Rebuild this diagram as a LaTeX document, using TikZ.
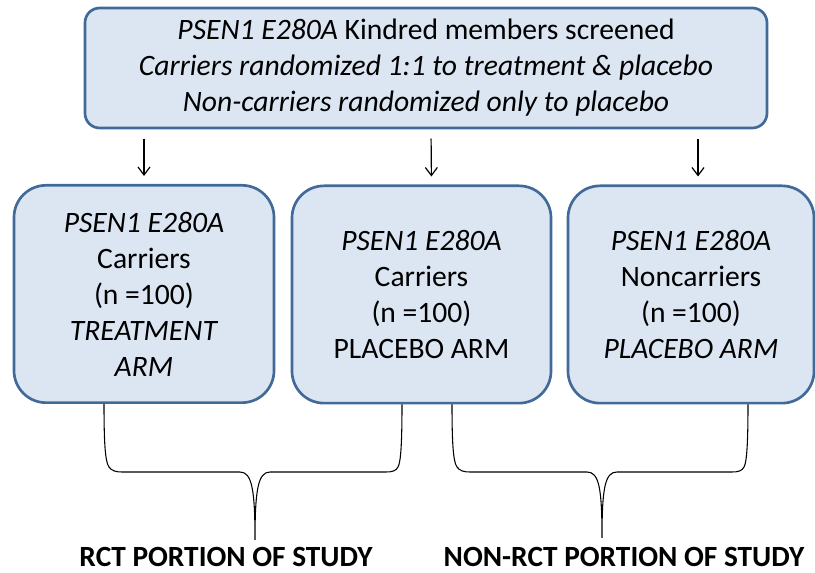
\documentclass[tikz,border=0pt]{standalone}
\usepackage{fontspec}
\setmainfont{Carlito}
\usetikzlibrary{arrows.meta,calc}
\definecolor{boxfill}{RGB}{220,230,242}
\definecolor{boxline}{RGB}{66,106,152}
\tikzset{
  box/.style={draw=boxline, fill=boxfill, line width=2pt, align=center, inner sep=0pt,
    font=\fontsize{22.2}{27}\selectfont},
  topbox/.style={box, rounded corners=11pt, minimum width=511.5pt, minimum height=90pt},
  armbox/.style={box, rounded corners=24pt, minimum height=163pt},
  arr/.style={line width=0.9pt, -{Straight Barb[length=6pt,width=9pt]}},
  brc/.style={line width=0.8pt},
  lbl/.style={font=\fontsize{22}{27}\selectfont\bfseries, inner sep=0pt}
}
\begin{document}
\begin{tikzpicture}[x=0.75pt,y=-0.75pt]
\useasboundingbox (0,0) rectangle (815,573);
\node[topbox] (top) at (426,68) {\textit{PSEN1 E280A} Kindred members screened\\ \textit{Carriers randomized 1:1 to treatment \& placebo}\\ \textit{Non-carriers randomized only to placebo}};
\node[armbox, minimum width=195pt] (b1) at (144,294) {\textit{PSEN1 E280A}\\ Carriers\\ (n =100)\\ \textit{TREATMENT}\\ \textit{ARM}};
\node[armbox, minimum width=194.25pt] (b2) at (421.5,294.5) {\textit{PSEN1 E280A}\\ Carriers\\ (n =100)\\ PLACEBO ARM};
\node[armbox, minimum width=184.5pt] (b3) at (691,294.5) {\textit{PSEN1 E280A}\\ Noncarriers\\ (n =100)\\ \textit{PLACEBO ARM}};
% arrows
\draw[arr, shorten <=7pt, shorten >=6pt] (top.south -| b1) -- (b1.north);
\draw[arr, shorten <=7pt, shorten >=6pt] ($(top.south)+(5,0)$) -- ($(b2.north)+(10,0)$);
\draw[arr, shorten <=7pt, shorten >=6pt] ($(top.south)+(272,0)$) -- ($(b3.north)+(7,0)$);
% brace 1
\draw[brc] ($(b1.south)+(-40,0)$) .. controls (104,440) and (105,462) .. (109,467)
  .. controls (112,471) and (116,472) .. (122,472) -- (240,472)
  .. controls (252,472) and (255,490) .. (255,540)
  .. controls (255,490) and (258,472) .. (270,472) -- (386,472)
  .. controls (392,472) and (396,471) .. (398,467)
  .. controls (401,462) and (402,440) .. ($(b2.south)+(-19.5,0)$);
% brace 2
\draw[brc] ($(b2.south)+(30.5,0)$) .. controls (452,440) and (453,462) .. (457,467)
  .. controls (460,471) and (464,472) .. (470,472) -- (587,472)
  .. controls (599,472) and (602,488) .. (602,538)
  .. controls (602,488) and (605,472) .. (617,472) -- (732,472)
  .. controls (738,472) and (742,471) .. (744,467)
  .. controls (747,462) and (748,440) .. ($(b3.south)+(57,0)$);
\node[lbl] (rct) at (226,557) {RCT PORTION OF STUDY};
\node[lbl] (nonrct) at (624,557) {NON-RCT PORTION OF STUDY};
\end{tikzpicture}
\end{document}
